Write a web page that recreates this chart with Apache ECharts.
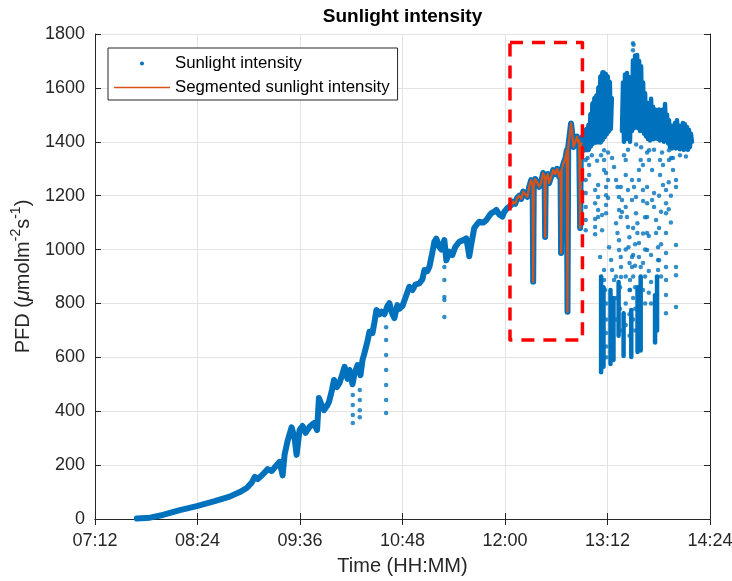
<!DOCTYPE html>
<html><head><meta charset="utf-8">
<script src="https://cdn.jsdelivr.net/npm/echarts/dist/echarts.min.js"></script>
<style>html,body{margin:0;padding:0;background:#fff}#main{width:732px;height:581px}</style>
</head><body><div id="main"></div>
<script>
// ---- tick labels (minutes since midnight) ----
const tickMinutes = [432, 504, 576, 648, 720, 792, 864];
const tickLabels = ['07:12', '08:24', '09:36', '10:48', '12:00', '13:12', '14:24'];
const yTicks = [0, 200, 400, 600, 800, 1000, 1200, 1400, 1600, 1800];

// ---- main sunlight trace (time in minutes, PFD) ----
const traceT = [461.4,470.6,479.7,491.6,503.5,516.1,526.6,533.7,538.6,542.1,544.2,546.3,549.8,553.3,556.1,559.6,561.7,563.8,565.2,567.3,570.1,572.2,573.6,575.7,577.8,579.9,582.7,585.8,588.0,589.3,590.7,592.9,595.0,596.4,598.5,599.9,602.0,603.8,605.9,607.3,609.4,610.8,612.9,614.3,616.4,618.5,619.9,621.3,623.4,624.8,626.9,628.3,629.7,631.8,633.2,635.3,637.4,638.8,640.9,642.3,644.4,645.8,647.9,650.0,652.8,655.0,657.1,659.9,662.0,663.4,665.5,666.9,669.0,670.4,671.8,673.9,675.3,677.4,678.8,680.9,683.0,685.1,687.9,690.7,692.8,694.2,694.9,696.3,698.4,700.5,701.9,704.7,706.8,708.9,710.3,712.4,713.9,716.0,718.1,719.5,721.6];
const traceV = [2,5,15,33,48,66,83,100,115,135,156,148,165,185,178,200,212,162,240,290,340,300,238,330,345,320,342,356,330,449,430,404,420,435,480,516,490,505,540,565,520,553,500,540,571,534,590,616,660,695,690,730,776,760,769,760,790,801,760,746,794,780,790,820,862,850,870,875,890,924,920,936,990,1029,1040,1010,1000,1035,960,992,980,1010,1029,1035,1041,1000,975,1020,1080,1095,1103,1100,1109,1125,1135,1140,1147,1130,1122,1140,1154];

// ---- segmented part (12:03 - 12:54) ----
const segT = [723.0,724.4,725.8,727.2,728.6,730.0,731.4,732.8,734.2,735.7,737.0,738.4,739.4,739.8,740.2,741.2,742.6,744.0,745.4,746.8,747.8,748.2,748.6,750.0,751.0,752.4,753.8,755.2,756.6,758.0,759.0,759.4,759.8,761.2,762.5,763.4,763.9,764.4,765.6,766.4,767.2,768.2,769.4,770.6,771.6,772.1,772.8,773.3,774.2];
const segV = [1150,1165,1178,1170,1192,1200,1188,1215,1205,1196,1233,1258,1240,881,1235,1262,1265,1233,1250,1284,1270,1047,1262,1280,1247,1270,1295,1280,1300,1270,1290,987,1295,1321,1340,1369,769,1380,1432,1468,1430,1381,1400,1419,1395,1406,1080,1395,1390];

// ---- noisy afternoon band ----
const band1T = [774.8,775.5,776.2,776.9,777.6,778.3,779.1,779.8,780.5,781.2,781.9,782.6,783.3,784.0,784.7,785.4,786.1,786.8,787.5,788.2,788.9,789.6,790.3,791.0,791.7,792.4,793.1,793.8,794.5];
const band1V = [1420,1370,1440,1380,1445,1372,1460,1385,1500,1395,1540,1410,1560,1400,1570,1410,1600,1400,1640,1410,1655,1420,1650,1430,1640,1440,1620,1450,1560];
const band2T = [802.2,802.9,803.6,804.3,805.0,805.7,806.4,807.1,807.8,808.5,809.2,809.9,810.6,811.4,812.1,812.8,813.5,814.2,814.9,815.6,816.3,817.0,817.7,818.4,819.1,819.8,820.5,821.2,821.9,822.6,823.3,824.0,824.7,825.4,826.1,826.8,827.5,828.2,828.9,829.6,830.3,831.0,831.7,832.4,833.1,833.8,834.5,835.2,835.9,836.6,837.3,838.0,838.7,839.4,840.1,840.8,841.5,842.2,842.9,843.6,844.3,845.0,845.7,846.4,847.1,847.8,848.5,849.2,849.9,850.6,851.3];
const band2V = [1440,1620,1400,1650,1410,1655,1420,1640,1400,1620,1440,1700,1450,1720,1460,1722,1450,1700,1440,1680,1450,1620,1430,1580,1420,1545,1410,1540,1405,1560,1410,1530,1410,1520,1420,1510,1410,1520,1405,1500,1410,1520,1400,1540,1410,1500,1395,1480,1380,1460,1375,1450,1380,1470,1375,1480,1380,1460,1372,1455,1375,1470,1370,1465,1375,1455,1370,1445,1380,1430,1400];

// ---- fast drops: [time, top, bottom] ----
const dropCols = [[787.5,900,545],[789.2,860,565],[794.1,850,575],[796.2,820,590],[799.8,880,680],[803.3,764,605],[808.7,776,601],[813.1,860,620],[815.3,900,625],[825.4,830,655],[826.8,900,700]];

// ---- isolated readings [time, PFD] ----
const dotPts = [[613.1,460],[613.1,423],[613.1,386],[613.1,356],[618.0,479],[618.0,442],[618.0,404],[618.0,378],
[636.5,712],[636.5,664],[636.5,609],[636.5,553],[636.5,497],[636.5,442],[636.5,393],
[677.4,935],[677.4,887],[677.4,824],[677.4,813],[677.4,750],
[776.7,1332],[776.7,1258],[776.7,1210],[776.7,1158],[776.7,1110],[776.7,1072],[779.1,1314],[779.1,1277],
[783.3,1221],[783.3,1172],[783.3,1113],[783.3,1084],[783.3,1057],[785.4,1240],[785.4,1195],[785.4,1147],[785.4,1121],
[786.8,972],[788.2,1128],[788.2,1072],[789.6,1369],[789.6,1332],[789.6,1295],[789.6,924],[789.6,887],[790.3,850],
[791.0,1284],[791.0,1232],[791.0,1202],[791.0,1165],[791.0,1135],[792.4,1258],[792.4,1191],[793.1,1009],[794.5,961],
[795.2,924],[795.2,1340],[796.6,887],[796.6,1306],[798.0,1098],[798.0,1258],[799.0,1061],[799.0,1232],
[800.1,1035],[800.1,998],[800.1,1195],[800.1,1147],[801.3,972],[801.3,1232],[801.3,1121],[801.5,935],[801.5,898],
[802.2,1184],[802.2,1139],[804.8,1158],[804.8,1332],[804.8,1277],[805.7,1121],[806.4,1084],[806.4,1221],
[807.4,1046],[806.7,1009],[809.2,972],[809.2,935],[809.2,1258],[809.2,1184],[807.8,887],[807.8,850],
[809.9,1766],[809.9,1740],[810.3,1760],[809.9,1703],[809.9,1666],[810.6,1232],[812.0,1195],[812.0,1135],
[813.0,1098],[813.0,1061],[814.1,1024],[814.1,972],[814.1,1295],[814.1,1258],[815.3,935],[815.3,1332],[816.9,1314],[816.9,1221],
[819.8,1232],[819.8,1172],[819.8,1121],[819.8,1061],[819.8,998],[821.2,1369],[821.2,1332],[823.3,1295],[823.3,1184],
[824.7,1210],[824.7,1158],[826.1,1110],[826.1,1061],[827.5,1009],[827.5,961],[827.5,924],[828.9,1332],[828.9,1277],
[831.0,1314],[831.0,1240],[833.1,1221],[833.1,1172],[833.1,1135],[833.1,1061],[833.1,987],[833.1,935],[833.1,887],[833.1,831],[833.1,764],
[835.2,1369],[835.2,1332],[838.0,1340],[838.0,1295],[840.1,1258],[840.1,1232],[840.1,1017],[840.1,935],[840.1,905],[840.1,787],
[791.0,800],[791.0,740],[791.0,690],[791.0,640],[791.0,600],
[798.0,900],[800.8,860],[798.0,820],[800.8,780],[798.0,740],[800.8,700],
[804.8,1000],[807.5,950],[804.8,900],[807.5,850],[804.8,800],[807.5,760],[804.8,720],[807.5,680],
[810.0,1080],[811.4,1020],[810.0,980],[811.4,940],[810.0,900],[811.4,860],[810.0,820],[811.4,780],[810.0,740],[811.4,700],
[817.0,1180],[818.4,1120],[817.0,1060],[818.4,1000],[817.0,950],[818.4,900],[817.0,850],[818.4,800],
[821.0,1050],[822.6,980],[821.0,920],[822.6,880],[821.0,840],[822.6,800],
[828.2,1200],[829.6,1140],[828.2,1080],[829.6,1020],[828.2,960],[829.6,900],
[835.0,1250],[836.5,1200],[835.0,1150],[836.5,1100],
[778.0,1340],[781.0,1350],[784.7,1330],[787.5,1350],[792.4,1360],[803.6,1350],[806.4,1370],[812.1,1390],[815.6,1380],
[819.8,1360],[824.7,1370],[830.3,1360],[836.6,1340],[842.9,1350],[847.1,1345]];

// ---- highlighted region box ----
const boxT = [723.5, 774.4, 774.4, 723.5, 723.5];
const boxV = [1768, 1768, 664, 664, 1768];

const BLUE = '#0072BD', ORANGE = '#D95319', AX = '#262626';
const FONT = 'Liberation Sans';
const zip = (a, b) => a.map((t, i) => [t, b[i]]);

const mainData = zip(traceT, traceV).concat(zip(segT, segV), zip(band1T, band1V));
const blueLine = (data, w) => ({
  name: 'Sunlight intensity', type: 'line', data: data, symbol: 'none', silent: true,
  color: BLUE, lineStyle: {color: BLUE, width: w, join: 'round', cap: 'round'}, z: 2
});

const series = [
  blueLine(mainData, 6),
  blueLine(zip(band2T, band2V), 4.5)
];
dropCols.forEach(c => series.push(blueLine([[c[0], c[1]], [c[0], c[2]]], 4.5)));
series.push({
  name: 'Sunlight intensity', type: 'scatter', data: dotPts, symbol: 'circle', symbolSize: 4.5,
  itemStyle: {color: BLUE}, silent: true, z: 2
});
series.push({
  name: 'Segmented sunlight intensity', type: 'line', data: zip(segT, segV), symbol: 'none', silent: true,
  color: ORANGE, lineStyle: {color: ORANGE, width: 2.2, join: 'round'}, z: 3
});
series.push({
  name: 'Region', type: 'line', data: zip(boxT, boxV), symbol: 'none', silent: true,
  lineStyle: {color: '#FF0000', width: 3.5, type: [13, 9], join: 'round'}, z: 4
});

const xBase = {
  type: 'value', min: 432, max: 864, interval: 72,
  axisLine: {show: true, lineStyle: {color: AX, width: 1}},
  axisTick: {show: true, inside: true, length: 6, lineStyle: {color: AX}},
};
const yBase = {
  type: 'value', min: 0, max: 1800, interval: 200,
  axisLine: {show: true, lineStyle: {color: AX, width: 1}},
  axisTick: {show: true, inside: true, length: 6, lineStyle: {color: AX}},
};

const option = {
  animation: false,
  backgroundColor: '#fff',
  textStyle: {fontFamily: FONT},
  grid: {left: 95, right: 22, top: 34, bottom: 62, containLabel: false, outerBoundsMode: 'none'},
  graphic: [{
    type: 'text', x: 402.5, y: 17, silent: true,
    style: {text: 'Sunlight intensity', font: 'bold 19px "Liberation Sans"', fill: '#000', align: 'center', verticalAlign: 'middle'}
  }],
  legend: {
    orient: 'vertical', left: 108, top: 48,
    padding: [7, 8, 4, 6], itemGap: 7, itemWidth: 56, itemHeight: 4, itemTextGap: 5,
    borderColor: AX, borderWidth: 1, backgroundColor: '#fff',
    textStyle: {fontSize: 16.8, color: '#000', fontFamily: FONT},
    selectedMode: false,
    data: [
      {name: 'Sunlight intensity', icon: 'circle', itemStyle: {color: BLUE}},
      {name: 'Segmented sunlight intensity', icon: 'path://M0,0H112V3H0Z', itemStyle: {color: ORANGE}}
    ]
  },
  xAxis: [
    Object.assign({}, xBase, {
      position: 'bottom',
      axisLabel: {
        show: true, margin: 13, fontSize: 18, color: AX, fontFamily: FONT,
        formatter: v => { const i = tickMinutes.indexOf(Math.round(v)); return i >= 0 ? tickLabels[i] : ''; }
      },
      splitLine: {show: true, lineStyle: {color: '#e3e3e3', width: 1}},
      name: 'Time (HH:MM)', nameLocation: 'middle', nameGap: 37,
      nameTextStyle: {fontSize: 20, color: AX, fontFamily: FONT}
    }),
    Object.assign({}, xBase, {position: 'top', axisLabel: {show: false}, splitLine: {show: false}})
  ],
  yAxis: [
    Object.assign({}, yBase, {
      position: 'left',
      axisLabel: {show: true, margin: 10, fontSize: 18, color: AX, fontFamily: FONT,
        formatter: v => (yTicks.indexOf(v) >= 0 ? String(v) : '')},
      splitLine: {show: true, lineStyle: {color: '#e3e3e3', width: 1}},
      name: '{n|PFD (}{mu|\u03bc}{n|molm}{s|-2}{n|s}{s|-1}{n|)}',
      nameLocation: 'middle', nameGap: 58, nameRotate: 90,
      nameTextStyle: {
        color: AX, fontFamily: FONT, fontSize: 20,
        rich: {
          n: {fontSize: 20, color: AX, fontFamily: FONT, lineHeight: 28},
          mu: {fontSize: 20, color: AX, fontFamily: FONT, fontStyle: 'italic', lineHeight: 28},
          s: {fontSize: 14, color: AX, fontFamily: FONT, verticalAlign: 'top', lineHeight: 28}
        }
      }
    }),
    Object.assign({}, yBase, {position: 'right', axisLabel: {show: false}, splitLine: {show: false}})
  ],
  series: series
};

const chart = echarts.init(document.getElementById('main'), null, {renderer: 'canvas'});
chart.setOption(option);
</script></body></html>
